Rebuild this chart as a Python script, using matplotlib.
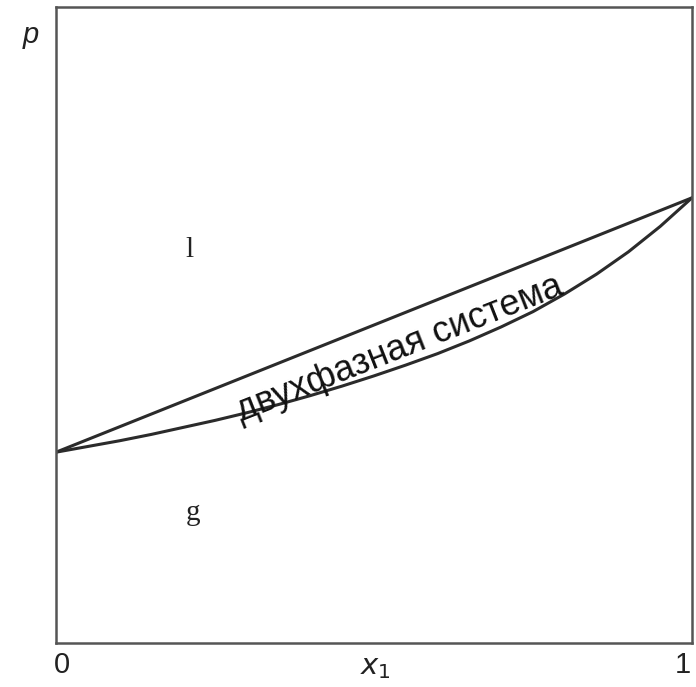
import matplotlib
matplotlib.use("Agg")
import matplotlib.pyplot as plt

# Upper (liquid) line: straight between pure-component pressures
x_liquid = [0.0, 1.0]
p_liquid = [0.30, 0.70]

# Lower (vapour) curve
x_vapour = [0.0, 0.05, 0.10, 0.15, 0.20, 0.25, 0.30, 0.35, 0.40, 0.45, 0.50,
            0.55, 0.60, 0.65, 0.70, 0.75, 0.80, 0.85, 0.90, 0.95, 1.0]
p_vapour = [0.300, 0.309, 0.318, 0.328, 0.339, 0.350, 0.362, 0.375, 0.389, 0.404, 0.420,
            0.437, 0.455, 0.475, 0.497, 0.521, 0.549, 0.580, 0.615, 0.655, 0.700]

region_text = "двухфазная система"
label_liquid = "l"
label_gas = "g"
xtick_labels = ["0", "1"]

fig = plt.figure(figsize=(6.96, 6.87), dpi=100)
ax = fig.add_axes([56/696, 1-643/687, (692-56)/696, (643-7)/687])
ax.set_xlim(0, 1)
ax.set_ylim(0, 1)
ax.set_xticks([])
ax.set_yticks([])
for s in ax.spines.values():
    s.set_color("#555555")
    s.set_linewidth(1.8)

ax.plot(x_liquid, p_liquid, color="#2b2b2b", lw=2.2, solid_capstyle="round")
ax.plot(x_vapour, p_vapour, color="#2b2b2b", lw=2.2, solid_capstyle="round")

ax.text(0.54, 0.462, region_text, rotation=21.5, ha="center", va="center",
        fontsize=26, family="Liberation Sans", color="#111111",
        rotation_mode="anchor")
ax.text(0.21, 0.618, label_liquid, ha="center", va="center", fontsize=21,
        family="Liberation Serif", color="#222222")
ax.text(0.215, 0.205, label_gas, ha="center", va="center", fontsize=21,
        family="Liberation Serif", color="#222222")

fig.text(31/696, 1-35/687, "p", ha="center", va="center", fontsize=21,
         family="Liberation Sans", style="italic", color="#222222")
fig.text(62/696, 1-665/687, xtick_labels[0], ha="center", va="center", fontsize=21,
         family="Liberation Sans", color="#222222")
fig.text(683/696, 1-665/687, xtick_labels[1], ha="center", va="center", fontsize=21,
         family="Liberation Sans", color="#222222")
fig.text(375/696, 1-667/687, r"$x_1$", ha="center", va="center", fontsize=21,
         color="#222222", math_fontfamily="dejavusans")

fig.savefig("out.png", dpi=100)
